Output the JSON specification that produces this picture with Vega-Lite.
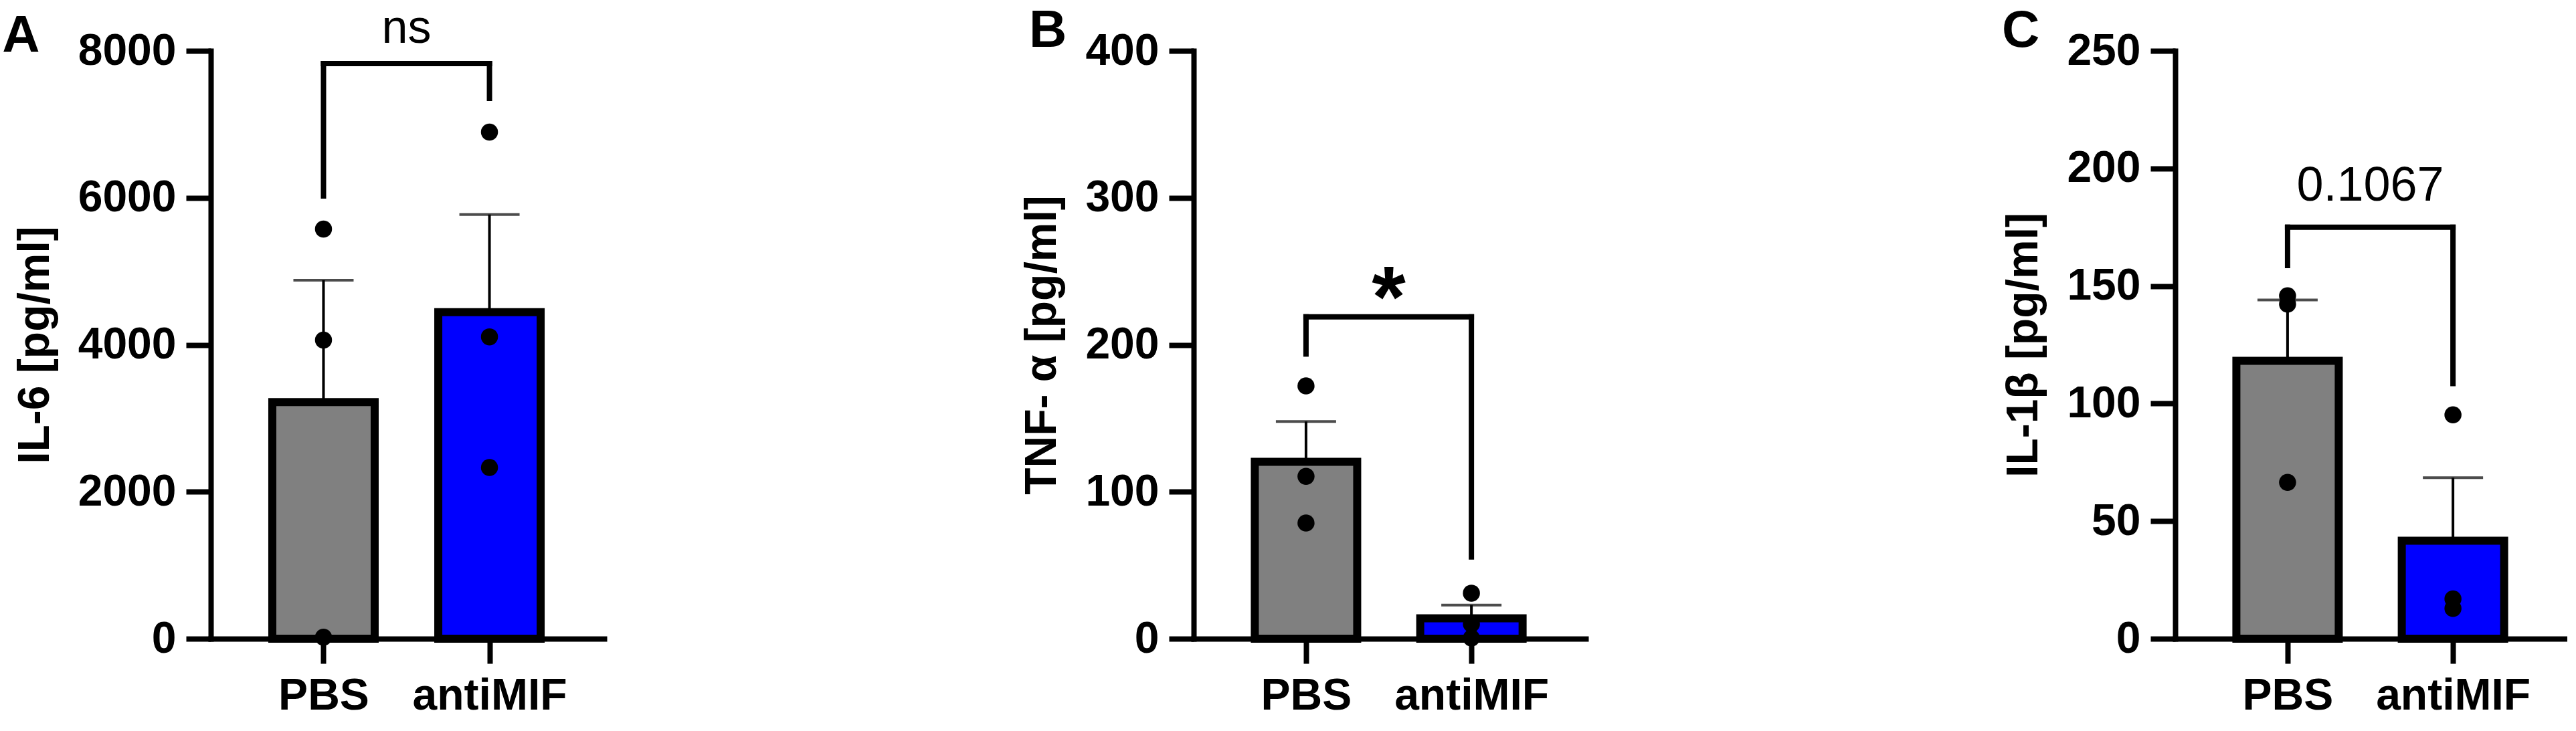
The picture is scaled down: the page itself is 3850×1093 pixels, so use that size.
{
  "$schema": "https://vega.github.io/schema/vega-lite/v6.json",
  "background": "white",
  "padding": {"left": 3, "top": 7, "right": 0, "bottom": 0},
  "autosize": {"type": "pad"},
  "spacing": 621,
  "datasets": {
    "obs": [
      {"panel": "A", "group": "PBS", "idx": 0, "slot": 0, "value": 5575},
      {"panel": "A", "group": "PBS", "idx": 0, "slot": 0, "value": 4063},
      {"panel": "A", "group": "PBS", "idx": 0, "slot": 0, "value": 20},
      {"panel": "A", "group": "antiMIF", "idx": 1, "slot": 0, "value": 6895},
      {"panel": "A", "group": "antiMIF", "idx": 1, "slot": 0, "value": 4108},
      {"panel": "A", "group": "antiMIF", "idx": 1, "slot": 0, "value": 2330},
      {"panel": "B", "group": "PBS", "idx": 0, "slot": 0, "value": 172},
      {"panel": "B", "group": "PBS", "idx": 0, "slot": 0, "value": 110.5},
      {"panel": "B", "group": "PBS", "idx": 0, "slot": 0, "value": 78.7},
      {"panel": "B", "group": "antiMIF", "idx": 1, "slot": 0, "value": 31},
      {"panel": "B", "group": "antiMIF", "idx": 1, "slot": 1, "value": 10},
      {"panel": "B", "group": "antiMIF", "idx": 1, "slot": -1, "value": 0.5},
      {"panel": "C", "group": "PBS", "idx": 0, "slot": -1, "value": 145.8},
      {"panel": "C", "group": "PBS", "idx": 0, "slot": 1, "value": 142.3},
      {"panel": "C", "group": "PBS", "idx": 0, "slot": 0, "value": 66.5},
      {"panel": "C", "group": "antiMIF", "idx": 1, "slot": 0, "value": 95.2},
      {"panel": "C", "group": "antiMIF", "idx": 1, "slot": -1, "value": 12.9},
      {"panel": "C", "group": "antiMIF", "idx": 1, "slot": 1, "value": 16.9}
    ],
    "brackets": [
      {"panel": "A", "from": 0, "to": 1, "top": 7827, "leftEnd": 6025, "rightEnd": 7354, "label": "ns", "labelY": 8110},
      {"panel": "B", "from": 0, "to": 1, "top": 219, "leftEnd": 193.7, "rightEnd": 55.6, "label": "*", "labelY": 212},
      {"panel": "C", "from": 0, "to": 1, "top": 175, "leftEnd": 158.7, "rightEnd": 108.5, "label": "0.1067", "labelY": 186.3}
    ]
  },
  "hconcat": [
    {
      "title": {"text": "A", "anchor": "start", "frame": "bounds", "fontSize": 78, "fontWeight": "bold", "font": "Liberation Sans", "color": "black", "dx": -16, "dy": 86, "offset": 0},
      "width": 588, "height": 879,
      "data": {"name": "obs"},
      "encoding": {
        "x": {"field": "idx", "type": "quantitative", "scale": {"domain": [-0.659, 1.671]}, "axis": {"values": [0, 1], "labelExpr": "datum.value === 0 ? 'PBS' : 'antiMIF'", "title": null}},
        "y": {"field": "value", "type": "quantitative", "scale": {"domain": [0, 8000]}, "axis": {"values": [0, 2000, 4000, 6000, 8000], "format": "d", "title": "IL-6 [pg/ml]"}}
      },
      "layer": [
        {"transform": [{"filter": "datum.panel === 'A'"}], "mark": {"type": "errorbar", "extent": "stderr", "orient": "vertical", "thickness": 4, "color": "black", "ticks": {"size": 90, "thickness": 4, "color": "black"}}},
        {"transform": [{"filter": "datum.panel === 'A'"}], "mark": {"type": "bar", "width": 153, "stroke": "black", "strokeWidth": 12}, "encoding": {"y": {"aggregate": "mean", "field": "value", "type": "quantitative", "scale": {"domain": [0, 8000]}}, "color": {"field": "group", "type": "nominal", "scale": {"domain": ["PBS", "antiMIF"], "range": ["#808080", "#0000ff"]}, "legend": null}}},
        {"transform": [{"filter": "datum.panel === 'A'"}], "mark": {"type": "point", "filled": true, "color": "black", "size": 650, "opacity": 1}, "encoding": {"xOffset": {"field": "slot", "type": "quantitative", "scale": {"domain": [-1, 1], "range": [-26, 26]}}}},
        {"data": {"name": "brackets"}, "transform": [{"filter": "datum.panel === 'A'"}], "mark": {"type": "rule", "strokeWidth": 8, "color": "black", "strokeCap": "square"}, "encoding": {"x": {"field": "from", "type": "quantitative", "scale": {"domain": [-0.659, 1.671]}}, "x2": {"field": "to"}, "y": {"field": "top", "type": "quantitative", "scale": {"domain": [0, 8000]}}}},
        {"data": {"name": "brackets"}, "transform": [{"filter": "datum.panel === 'A'"}], "mark": {"type": "rule", "strokeWidth": 8, "color": "black", "strokeCap": "square"}, "encoding": {"x": {"field": "from", "type": "quantitative", "scale": {"domain": [-0.659, 1.671]}}, "y": {"field": "leftEnd", "type": "quantitative", "scale": {"domain": [0, 8000]}}, "y2": {"field": "top"}}},
        {"data": {"name": "brackets"}, "transform": [{"filter": "datum.panel === 'A'"}], "mark": {"type": "rule", "strokeWidth": 8, "color": "black", "strokeCap": "square"}, "encoding": {"x": {"field": "to", "type": "quantitative", "scale": {"domain": [-0.659, 1.671]}}, "y": {"field": "rightEnd", "type": "quantitative", "scale": {"domain": [0, 8000]}}, "y2": {"field": "top"}}},
        {"data": {"name": "brackets"}, "transform": [{"filter": "datum.panel === 'A'"}, {"fold": ["from", "to"], "as": ["end", "pos"]}, {"aggregate": [{"op": "mean", "field": "pos", "as": "mid"}], "groupby": ["label", "labelY"]}], "mark": {"type": "text", "font": "Liberation Sans", "fontSize": 70, "fontWeight": "normal", "color": "black", "align": "center", "baseline": "alphabetic"}, "encoding": {"x": {"field": "mid", "type": "quantitative", "scale": {"domain": [-0.659, 1.671]}}, "y": {"field": "labelY", "type": "quantitative", "scale": {"domain": [0, 8000]}}, "text": {"field": "label", "type": "nominal"}}}
      ]
    },
    {
      "title": {"text": "B", "anchor": "start", "frame": "bounds", "fontSize": 78, "fontWeight": "bold", "font": "Liberation Sans", "color": "black", "dx": 13, "dy": 43, "offset": 0},
      "width": 586, "height": 879,
      "data": {"name": "obs"},
      "encoding": {
        "x": {"field": "idx", "type": "quantitative", "scale": {"domain": [-0.659, 1.671]}, "axis": {"values": [0, 1], "labelExpr": "datum.value === 0 ? 'PBS' : 'antiMIF'", "title": null}},
        "y": {"field": "value", "type": "quantitative", "scale": {"domain": [0, 400]}, "axis": {"values": [0, 100, 200, 300, 400], "format": "d", "title": "TNF- α [pg/ml]"}}
      },
      "layer": [
        {"transform": [{"filter": "datum.panel === 'B'"}], "mark": {"type": "errorbar", "extent": "stderr", "orient": "vertical", "thickness": 4, "color": "black", "ticks": {"size": 90, "thickness": 4, "color": "black"}}},
        {"transform": [{"filter": "datum.panel === 'B'"}], "mark": {"type": "bar", "width": 153, "stroke": "black", "strokeWidth": 12}, "encoding": {"y": {"aggregate": "mean", "field": "value", "type": "quantitative", "scale": {"domain": [0, 400]}}, "color": {"field": "group", "type": "nominal", "scale": {"domain": ["PBS", "antiMIF"], "range": ["#808080", "#0000ff"]}, "legend": null}}},
        {"transform": [{"filter": "datum.panel === 'B'"}], "mark": {"type": "point", "filled": true, "color": "black", "size": 650, "opacity": 1}, "encoding": {"xOffset": {"field": "slot", "type": "quantitative", "scale": {"domain": [-1, 1], "range": [-26, 26]}}}},
        {"data": {"name": "brackets"}, "transform": [{"filter": "datum.panel === 'B'"}], "mark": {"type": "rule", "strokeWidth": 8, "color": "black", "strokeCap": "square"}, "encoding": {"x": {"field": "from", "type": "quantitative", "scale": {"domain": [-0.659, 1.671]}}, "x2": {"field": "to"}, "y": {"field": "top", "type": "quantitative", "scale": {"domain": [0, 400]}}}},
        {"data": {"name": "brackets"}, "transform": [{"filter": "datum.panel === 'B'"}], "mark": {"type": "rule", "strokeWidth": 8, "color": "black", "strokeCap": "square"}, "encoding": {"x": {"field": "from", "type": "quantitative", "scale": {"domain": [-0.659, 1.671]}}, "y": {"field": "leftEnd", "type": "quantitative", "scale": {"domain": [0, 400]}}, "y2": {"field": "top"}}},
        {"data": {"name": "brackets"}, "transform": [{"filter": "datum.panel === 'B'"}], "mark": {"type": "rule", "strokeWidth": 8, "color": "black", "strokeCap": "square"}, "encoding": {"x": {"field": "to", "type": "quantitative", "scale": {"domain": [-0.659, 1.671]}}, "y": {"field": "rightEnd", "type": "quantitative", "scale": {"domain": [0, 400]}}, "y2": {"field": "top"}}},
        {"data": {"name": "brackets"}, "transform": [{"filter": "datum.panel === 'B'"}, {"fold": ["from", "to"], "as": ["end", "pos"]}, {"aggregate": [{"op": "mean", "field": "pos", "as": "mid"}], "groupby": ["label", "labelY"]}], "mark": {"type": "text", "font": "Liberation Sans", "fontSize": 130, "fontWeight": "bold", "color": "black", "align": "center", "baseline": "alphabetic"}, "encoding": {"x": {"field": "mid", "type": "quantitative", "scale": {"domain": [-0.659, 1.671]}}, "y": {"field": "labelY", "type": "quantitative", "scale": {"domain": [0, 400]}}, "text": {"field": "label", "type": "nominal"}}}
      ]
    },
    {
      "title": {"text": "C", "anchor": "start", "frame": "bounds", "fontSize": 78, "fontWeight": "bold", "font": "Liberation Sans", "color": "black", "dx": 0, "dy": 43, "offset": 0},
      "width": 586, "height": 879,
      "data": {"name": "obs"},
      "encoding": {
        "x": {"field": "idx", "type": "quantitative", "scale": {"domain": [-0.659, 1.671]}, "axis": {"values": [0, 1], "labelExpr": "datum.value === 0 ? 'PBS' : 'antiMIF'", "title": null}},
        "y": {"field": "value", "type": "quantitative", "scale": {"domain": [0, 250]}, "axis": {"values": [0, 50, 100, 150, 200, 250], "format": "d", "title": "IL-1β [pg/ml]"}}
      },
      "layer": [
        {"transform": [{"filter": "datum.panel === 'C'"}], "mark": {"type": "errorbar", "extent": "stderr", "orient": "vertical", "thickness": 4, "color": "black", "ticks": {"size": 90, "thickness": 4, "color": "black"}}},
        {"transform": [{"filter": "datum.panel === 'C'"}], "mark": {"type": "bar", "width": 153, "stroke": "black", "strokeWidth": 12}, "encoding": {"y": {"aggregate": "mean", "field": "value", "type": "quantitative", "scale": {"domain": [0, 250]}}, "color": {"field": "group", "type": "nominal", "scale": {"domain": ["PBS", "antiMIF"], "range": ["#808080", "#0000ff"]}, "legend": null}}},
        {"transform": [{"filter": "datum.panel === 'C'"}], "mark": {"type": "point", "filled": true, "color": "black", "size": 650, "opacity": 1}, "encoding": {"xOffset": {"field": "slot", "type": "quantitative", "scale": {"domain": [-1, 1], "range": [-26, 26]}}}},
        {"data": {"name": "brackets"}, "transform": [{"filter": "datum.panel === 'C'"}], "mark": {"type": "rule", "strokeWidth": 8, "color": "black", "strokeCap": "square"}, "encoding": {"x": {"field": "from", "type": "quantitative", "scale": {"domain": [-0.659, 1.671]}}, "x2": {"field": "to"}, "y": {"field": "top", "type": "quantitative", "scale": {"domain": [0, 250]}}}},
        {"data": {"name": "brackets"}, "transform": [{"filter": "datum.panel === 'C'"}], "mark": {"type": "rule", "strokeWidth": 8, "color": "black", "strokeCap": "square"}, "encoding": {"x": {"field": "from", "type": "quantitative", "scale": {"domain": [-0.659, 1.671]}}, "y": {"field": "leftEnd", "type": "quantitative", "scale": {"domain": [0, 250]}}, "y2": {"field": "top"}}},
        {"data": {"name": "brackets"}, "transform": [{"filter": "datum.panel === 'C'"}], "mark": {"type": "rule", "strokeWidth": 8, "color": "black", "strokeCap": "square"}, "encoding": {"x": {"field": "to", "type": "quantitative", "scale": {"domain": [-0.659, 1.671]}}, "y": {"field": "rightEnd", "type": "quantitative", "scale": {"domain": [0, 250]}}, "y2": {"field": "top"}}},
        {"data": {"name": "brackets"}, "transform": [{"filter": "datum.panel === 'C'"}, {"fold": ["from", "to"], "as": ["end", "pos"]}, {"aggregate": [{"op": "mean", "field": "pos", "as": "mid"}], "groupby": ["label", "labelY"]}], "mark": {"type": "text", "font": "Liberation Sans", "fontSize": 72, "fontWeight": "normal", "color": "black", "align": "center", "baseline": "alphabetic"}, "encoding": {"x": {"field": "mid", "type": "quantitative", "scale": {"domain": [-0.659, 1.671]}}, "y": {"field": "labelY", "type": "quantitative", "scale": {"domain": [0, 250]}}, "text": {"field": "label", "type": "nominal"}}}
      ]
    }
  ],
  "config": {
    "font": "Liberation Sans",
    "view": {"stroke": null},
    "axis": {"domainColor": "black", "domainWidth": 8, "domainCap": "square", "tickColor": "black", "tickWidth": 8, "tickSize": 37, "labelFont": "Liberation Sans", "labelFontSize": 66, "labelFontWeight": "bold", "labelColor": "black", "labelFlush": false, "labelOverlap": false, "labelLimit": 0, "titleFont": "Liberation Sans", "titleFontSize": 66, "titleFontWeight": "bold", "titleColor": "black", "grid": false},
    "axisY": {"labelPadding": 15, "titlePadding": 30},
    "axisX": {"labelPadding": 16, "labelAngle": 0}
  }
}
